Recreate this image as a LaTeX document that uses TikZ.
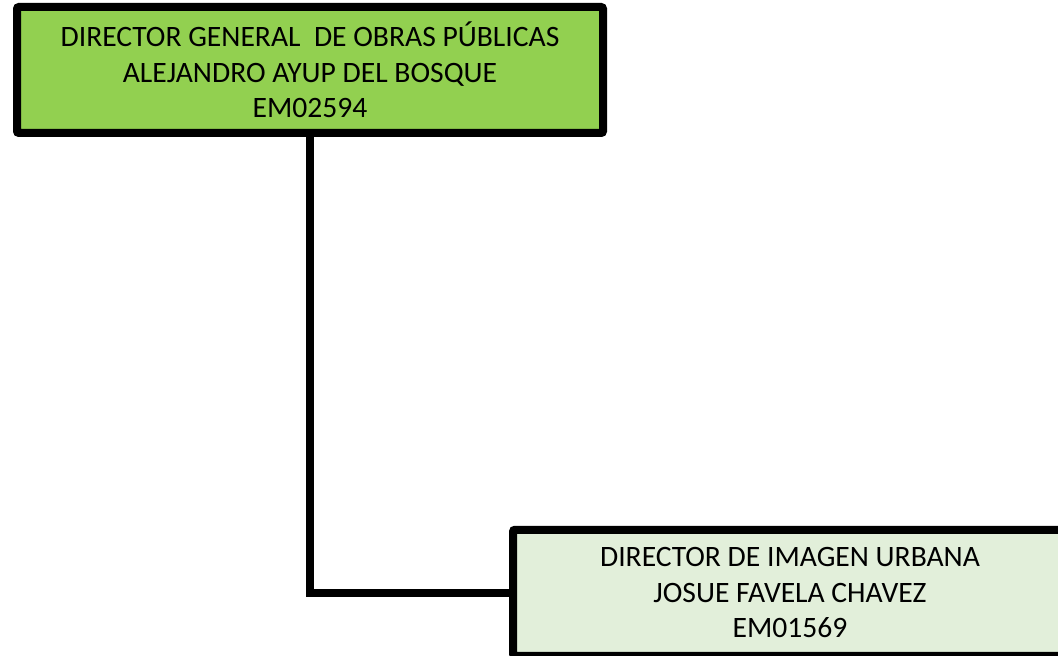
\documentclass[tikz,border=0pt]{standalone}
\usepackage{fontspec}
\setmainfont{Carlito}
\definecolor{greenhead}{HTML}{92D050}
\definecolor{greenpale}{HTML}{E2EFDA}
\begin{document}
\begin{tikzpicture}[x=0.75pt,y=-0.75pt,
    puesto/.style={draw=black,line width=6pt,rounded corners=1.5pt,align=center,
      inner sep=0pt,minimum height=94.5pt,
      font=\fontsize{22.2}{26.5}\selectfont},
    enlace/.style={draw=black,line width=6pt}]
  \useasboundingbox (0,0) rectangle (1058,656);
  \draw
    (310,70) node[puesto,fill=greenhead,minimum width=439.5pt] (director)
      {DIRECTOR GENERAL~ DE OBRAS PÚBLICAS\\ALEJANDRO AYUP DEL BOSQUE\\EM02594}
    (790,592.75) node[puesto,fill=greenpale,minimum width=415.5pt] (imagen)
      {DIRECTOR DE IMAGEN URBANA\\JOSUE FAVELA CHAVEZ\\EM01569};
  \begin{scope}[enlace]
    \draw (director.south) |- (imagen.west);
  \end{scope}
\end{tikzpicture}
\end{document}
